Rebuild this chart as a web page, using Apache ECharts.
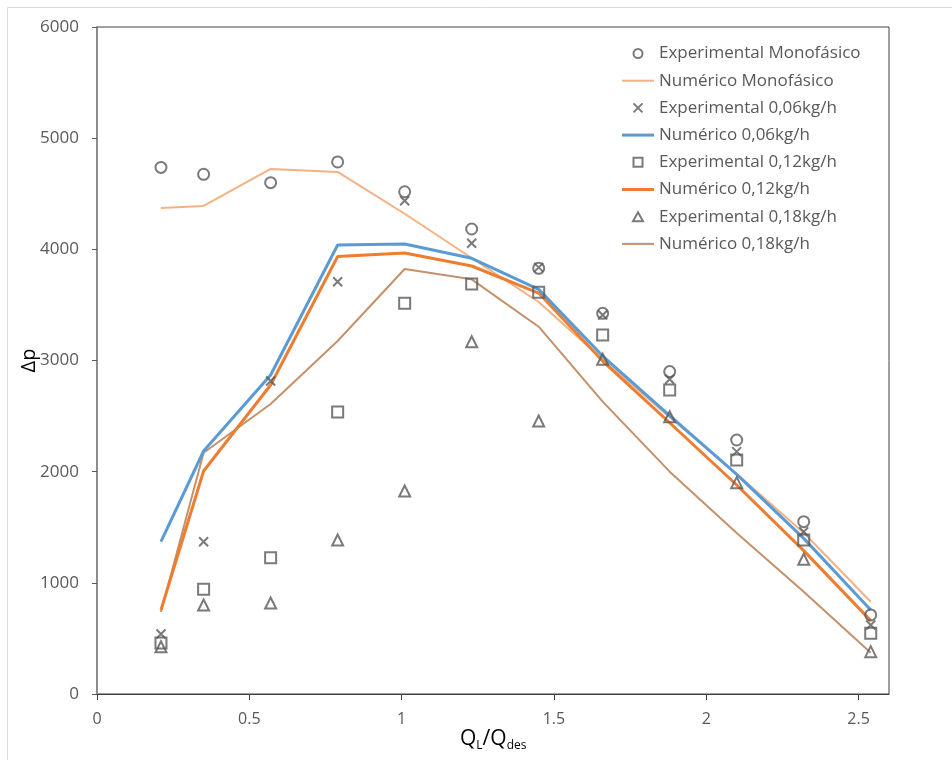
<!DOCTYPE html>
<html>
<head>
<meta charset="utf-8">
<script src="https://cdn.jsdelivr.net/npm/echarts@6/dist/echarts.min.js"></script>
<style>
html,body{margin:0;padding:0;background:#fff;}
#chart{width:952px;height:760px;}
</style>
</head>
<body>
<div id="chart"></div>
<script>
// ---- data ----
const xVals = [0.21, 0.35, 0.57, 0.79, 1.01, 1.23, 1.45, 1.66, 1.88, 2.10, 2.32, 2.54];
const expMono = [4737, 4675, 4600, 4786, 4518, 4183, 3829, 3424, 2900, 2285, 1550, 711];
const numMono = [4372, 4390, 4723, 4696, 4320, 3922, 3526, 3010, 2490, 1980, 1450, 830];
const exp006 = [540, 1370, 2815, 3709, 4437, 4054, 3838, 3409, 2831, 2180, 1460, 620];
const num006 = [1370, 2186, 2870, 4039, 4048, 3919, 3640, 3040, 2505, 1975, 1400, 755];
const exp012 = [459, 942, 1226, 2537, 3514, 3688, 3613, 3229, 2735, 2105, 1385, 546];
const num012 = [756, 2006, 2780, 3935, 3967, 3850, 3607, 2995, 2440, 1880, 1290, 660];
const exp018 = [425, 800, 818, 1385, 1826, 3169, 2456, 3011, 2494, 1901, 1212, 381];
const num018 = [738, 2170, 2609, 3175, 3823, 3730, 3304, 2630, 2000, 1448, 920, 372];
const xTicks = [0, 0.5, 1, 1.5, 2, 2.5];
const names = ['Experimental Monofásico', 'Numérico Monofásico', 'Experimental 0,06kg/h', 'Numérico 0,06kg/h',
  'Experimental 0,12kg/h', 'Numérico 0,12kg/h', 'Experimental 0,18kg/h', 'Numérico 0,18kg/h'];

const pair = ys => ys.map((y, i) => [xVals[i], y]);
const markGray = '#595959';
const font = '"Open Sans", "Noto Sans", sans-serif';

const SYM_X = 'path://M0,0L10,10M0,10L10,0';
const SYM_SQ = 'path://M0,0L10,0L10,10L0,10Z';
const SYM_TRI = 'path://M5,0L10,9L0,9Z';
const lineIcon = w => 'path://M0,0L32,0L32,' + w + 'L0,' + w + 'Z';

function lineS(name, ys, color, width) {
  return { name, type: 'line', data: pair(ys), symbol: 'none', z: 2,
    lineStyle: { color, width }, itemStyle: { color } };
}
function scatS(name, ys, symbol, size) {
  return { name, type: 'scatter', data: pair(ys), symbol, symbolSize: size, z: 5,
    itemStyle: { color: 'rgba(0,0,0,0)', borderColor: markGray, borderWidth: 2 } };
}

const legendData = [
  { name: names[0], icon: 'circle' },
  { name: names[1], icon: lineIcon(2) },
  { name: names[2], icon: SYM_X },
  { name: names[3], icon: lineIcon(3) },
  { name: names[4], icon: SYM_SQ },
  { name: names[5], icon: lineIcon(3) },
  { name: names[6], icon: SYM_TRI },
  { name: names[7], icon: lineIcon(2) }
];

const chart = echarts.init(document.getElementById('chart'));
chart.setOption({
  animation: false,
  backgroundColor: '#fff',
  textStyle: { fontFamily: font },
  grid: { left: 97, top: 27, right: 63, bottom: 66, show: true, borderColor: '#404040', borderWidth: 1 },
  graphic: [
    { type: 'rect', shape: { x: 7.5, y: 7.5, width: 1000, height: 1000 }, style: { fill: 'none', stroke: '#d9d9d9', lineWidth: 1 }, silent: true },
    { type: 'text', left: 460, top: 729, style: {
        text: '{a|Q}{b|L}{a|/Q}{b|des}',
        rich: { a: { fontSize: 21, fontFamily: font, fill: '#000', verticalAlign: 'bottom' },
                b: { fontSize: 12, fontFamily: font, fill: '#000', verticalAlign: 'bottom', padding: [0, 0, -2, 0] } } } }
  ],
  legend: {
    data: legendData, orient: 'vertical', left: 622, top: 45, padding: 0,
    itemWidth: 32, itemHeight: 9, itemGap: 10.2, symbolKeepAspect: true,
    textStyle: { color: '#595959', fontSize: 17, fontFamily: font }
  },
  xAxis: {
    type: 'value', min: 0, max: 2.6, interval: 0.5,
    axisLine: { show: true, lineStyle: { color: '#404040', width: 1 } },
    axisTick: { show: true, length: 6, customValues: xTicks, lineStyle: { color: '#404040' } },
    axisLabel: { customValues: xTicks, color: '#595959', fontSize: 16, margin: 17, fontFamily: font },
    splitLine: { show: false }
  },
  yAxis: {
    type: 'value', min: 0, max: 6000, interval: 1000,
    name: 'Δp', nameLocation: 'middle', nameGap: 58, nameRotate: 90, nameMoveOverlap: false,
    nameTextStyle: { color: '#000', fontSize: 20, fontFamily: font },
    axisLine: { show: true, lineStyle: { color: '#8c8c8c', width: 2 } },
    axisTick: { show: true, length: 5, lineStyle: { color: '#595959' } },
    axisLabel: { color: '#595959', fontSize: 17, margin: 18, fontFamily: font, formatter: v => String(v) },
    splitLine: { show: false }
  },
  series: [
    lineS(names[1], numMono, '#F4B183', 2),
    lineS(names[7], num018, '#C4916B', 2),
    lineS(names[5], num012, '#ED7D31', 3),
    lineS(names[3], num006, '#5B9BD5', 3),
    scatS(names[0], expMono, 'circle', 11),
    scatS(names[2], exp006, SYM_X, 9),
    scatS(names[4], exp012, 'rect', 11),
    scatS(names[6], exp018, 'triangle', 11)
  ]
});
</script>
</body>
</html>
